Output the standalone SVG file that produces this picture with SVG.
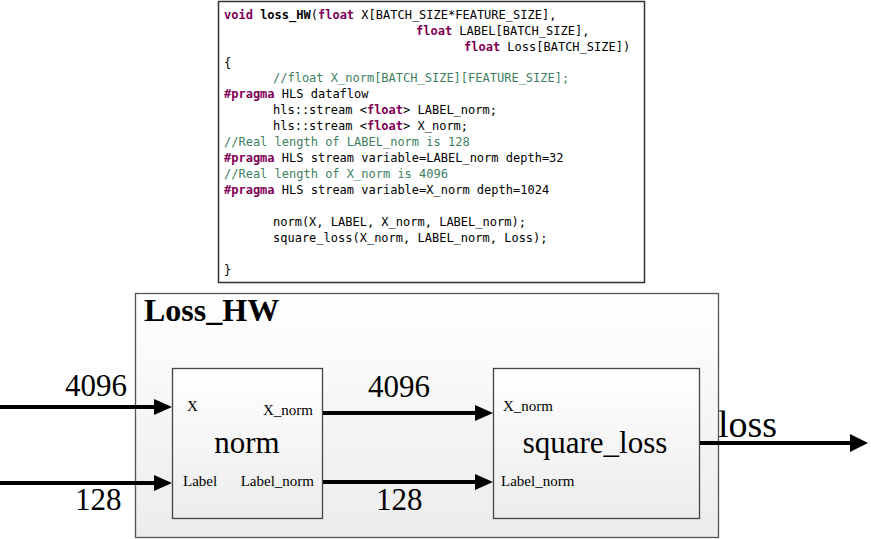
<svg xmlns="http://www.w3.org/2000/svg" width="871" height="539" viewBox="0 0 871 539">
<defs>
<linearGradient id="g" x1="0" y1="0" x2="0" y2="1">
<stop offset="0" stop-color="#ffffff"/>
<stop offset="1" stop-color="#ececec"/>
</linearGradient>
<marker id="ah" markerUnits="userSpaceOnUse" markerWidth="18" markerHeight="16" refX="8" refY="8" orient="auto">
<path d="M0,0 L18,8 L0,16 Z" fill="#000"/>
</marker>
<marker id="ah2" markerUnits="userSpaceOnUse" markerWidth="18" markerHeight="18" refX="8" refY="9" orient="auto">
<path d="M0,0 L18,9 L0,18 Z" fill="#000"/>
</marker>
</defs>
<style>
.code{font-family:"DejaVu Sans Mono","Liberation Mono",monospace;font-size:12px;fill:#000;white-space:pre}
.kw{fill:#7f0055;font-weight:bold}
.cm{fill:#3f7f5f}
.b{font-weight:bold}
.serif{font-family:"Liberation Serif","Times New Roman",serif;fill:#000}
.title{font-size:32px;font-weight:bold}
.big{font-size:31px}
.port{font-size:15px}
.num{font-size:31px}
.box{fill:url(#g);stroke:#444;stroke-width:1.3}
.wire{stroke:#000;stroke-width:4;fill:none}
</style>
<g id="code">
<rect x="218.5" y="1.5" width="426" height="281" fill="#fff" stroke="#333" stroke-width="1.5"/>
<text class="code" x="224" y="19"><tspan class="kw">void</tspan> <tspan class="b">loss_HW</tspan>(<tspan class="kw">float</tspan> X[BATCH_SIZE*FEATURE_SIZE],</text>
<text class="code" x="416" y="35"><tspan class="kw">float</tspan> LABEL[BATCH_SIZE],</text>
<text class="code" x="464" y="51"><tspan class="kw">float</tspan> Loss[BATCH_SIZE])</text>
<text class="code" x="224" y="67">{</text>
<text class="code cm" x="273" y="82">//float X_norm[BATCH_SIZE][FEATURE_SIZE];</text>
<text class="code" x="224" y="98"><tspan class="kw">#pragma</tspan> HLS dataflow</text>
<text class="code" x="273" y="114">hls::stream &lt;<tspan class="kw">float</tspan>&gt; LABEL_norm;</text>
<text class="code" x="273" y="130">hls::stream &lt;<tspan class="kw">float</tspan>&gt; X_norm;</text>
<text class="code cm" x="224" y="146">//Real length of LABEL_norm is 128</text>
<text class="code" x="224" y="162"><tspan class="kw">#pragma</tspan> HLS stream variable=LABEL_norm depth=32</text>
<text class="code cm" x="224" y="178">//Real length of X_norm is 4096</text>
<text class="code" x="224" y="194"><tspan class="kw">#pragma</tspan> HLS stream variable=X_norm depth=1024</text>
<text class="code" x="273" y="226">norm(X, LABEL, X_norm, LABEL_norm);</text>
<text class="code" x="273" y="242">square_loss(X_norm, LABEL_norm, Loss);</text>
<text class="code" x="224" y="274">}</text>
</g>
<g id="loss_hw">
<rect x="135.5" y="293.5" width="583" height="244" fill="url(#g)" stroke="#555" stroke-width="1.3"/>
<text class="serif title" x="144" y="321">Loss_HW</text>
</g>
<g id="norm">
<rect class="box" x="172.5" y="368.5" width="150" height="150"/>
<text class="serif big" x="247" y="453" text-anchor="middle">norm</text>
<text class="serif port" x="187" y="411">X</text>
<text class="serif port" x="313" y="415" text-anchor="end">X_norm</text>
<text class="serif port" x="183" y="486">Label</text>
<text class="serif port" x="314" y="486" text-anchor="end">Label_norm</text>
</g>
<g id="square_loss">
<rect class="box" x="493.5" y="368.5" width="206" height="150"/>
<text class="serif big" x="595" y="453" text-anchor="middle">square_loss</text>
<text class="serif port" x="503" y="411">X_norm</text>
<text class="serif port" x="501" y="486">Label_norm</text>
</g>
<g id="connectors">
<path class="wire" d="M0,407 H162" marker-end="url(#ah)"/>
<path class="wire" d="M0,483 H162" marker-end="url(#ah)"/>
<path class="wire" d="M323,413 H483" marker-end="url(#ah)"/>
<path class="wire" d="M323,482 H483" marker-end="url(#ah)"/>
<path class="wire" d="M700,443 H858" marker-end="url(#ah2)"/>
<text class="serif num" x="65" y="396">4096</text>
<text class="serif num" x="75" y="510">128</text>
<text class="serif num" x="368" y="397">4096</text>
<text class="serif num" x="376" y="510">128</text>
<text class="serif" x="718" y="437" font-size="38">loss</text>
</g>
</svg>
